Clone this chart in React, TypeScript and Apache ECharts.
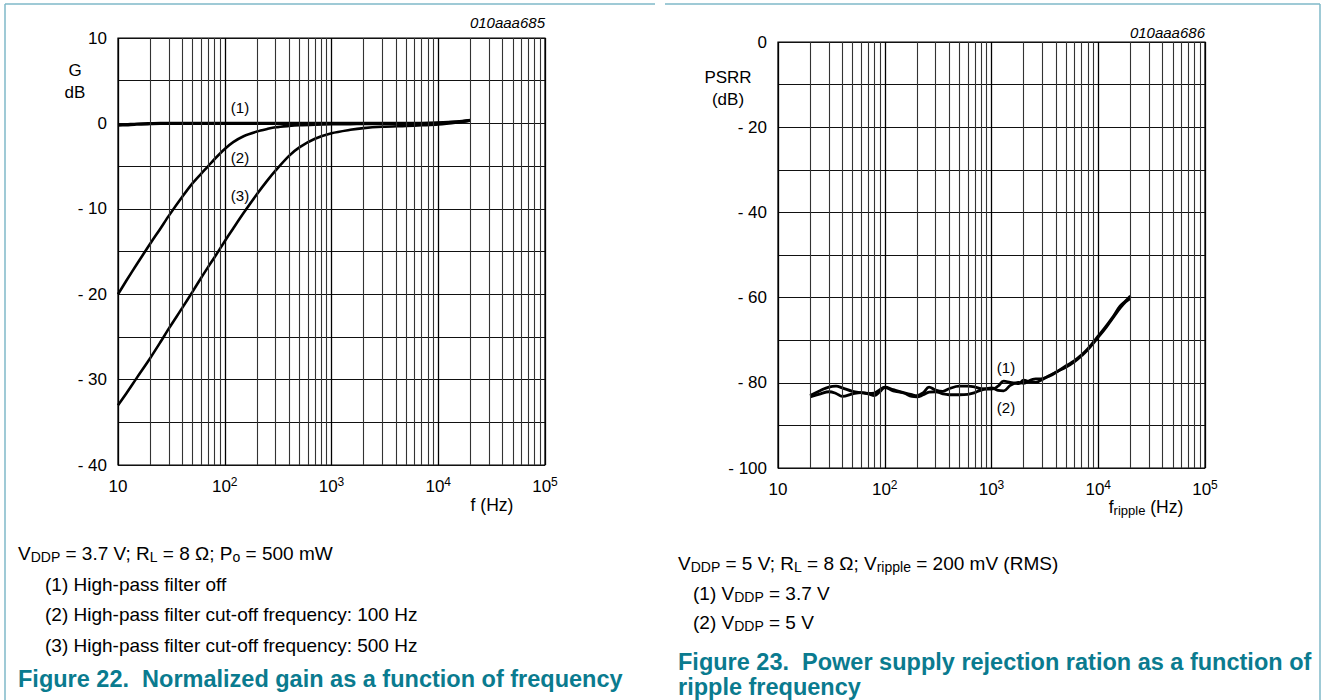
import React, { useEffect, useRef } from "react";
import * as echarts from "echarts";

// ---------- Figure 22: normalized gain ----------
const gainFreq = [10, 12, 15, 20, 25, 30, 40, 50, 60, 70, 80, 100, 120, 150, 200, 250, 300, 400, 500, 700, 1000, 1500, 2000, 3000, 5000, 7000, 10000, 15000, 20000];
const gainOff = [-0.2, -0.15, -0.08, -0.03, 0, 0, 0, 0, 0, 0, 0, 0, 0, 0, 0, 0, 0, 0, 0, 0, 0, 0, 0, 0, 0, 0, 0.05, 0.18, 0.35];
const gain100 = [-20, -18.4, -16.5, -14.1, -12.3, -10.8, -8.6, -7.0, -5.9, -5.0, -4.2, -3.0, -2.2, -1.5, -0.95, -0.65, -0.45, -0.3, -0.22, -0.15, -0.1, -0.08, -0.06, -0.05, -0.03, 0, 0.05, 0.18, 0.35];
const gain500 = [-33, -31.6, -29.8, -27.5, -25.6, -24.0, -21.6, -19.7, -18.1, -16.8, -15.7, -13.8, -12.3, -10.5, -8.3, -6.7, -5.5, -3.8, -2.8, -1.8, -1.15, -0.75, -0.55, -0.4, -0.3, -0.22, -0.12, 0.12, 0.35];

// ---------- Figure 23: PSRR ----------
const psrrFreq = [20, 25, 30, 35, 40, 50, 60, 70, 80, 90, 100, 120, 150, 180, 200, 230, 260, 300, 350, 400, 500, 600, 700, 800, 1000, 1150, 1300, 1500, 1800, 2000, 2300, 2600, 3000, 3500, 4000, 5000, 6000, 7000, 8000, 10000, 12000, 14000, 16000, 18000, 20000];
const psrr37 = [-83.0, -81.8, -81.0, -80.8, -81.2, -82.0, -82.3, -82.5, -82.4, -81.6, -81.0, -81.6, -82.3, -82.8, -83.0, -82.3, -81.0, -81.7, -82.0, -81.4, -80.8, -80.8, -81.0, -81.4, -81.5, -80.8, -79.6, -79.9, -80.2, -79.4, -79.8, -79.9, -79.2, -78.3, -77.5, -76.3, -75.0, -73.6, -72.2, -69.3, -66.8, -64.5, -62.5, -61.0, -60.2];
const psrr5 = [-83.3, -82.6, -82.1, -82.5, -83.2, -82.6, -82.3, -82.6, -83.0, -82.1, -81.1, -81.9, -82.4, -83.2, -83.3, -82.8, -82.2, -82.1, -82.6, -82.8, -82.8, -82.7, -82.3, -81.7, -81.2, -81.8, -81.9, -80.6, -79.9, -80.1, -79.4, -79.1, -79.0, -78.4, -77.6, -76.0, -74.8, -73.4, -72.0, -69.0, -66.5, -64.2, -62.0, -60.8, -59.6];

const decades = [10, 100, 1000, 10000];
const minorMultipliers = [2, 3, 4, 5, 6, 7, 8, 9];

const FONT = "'Liberation Sans', Arial, Helvetica, sans-serif";
const TEAL = "#0a7b8f";
const FRAME = "#7fb9c9";

function zip(xs: number[], ys: number[]) {
  return xs.map((x, i) => [x, ys[i]]);
}

function minorLines() {
  const out: any[] = [];
  decades.forEach((d) => minorMultipliers.forEach((m) => out.push({ xAxis: d * m })));
  return out;
}

function fmtY(v: number, step: number) {
  if (Math.round(v) % step !== 0) return "";
  if (v < 0) return "- " + -v;
  return String(v);
}

function fmtX(v: number) {
  const e = Math.round(Math.log10(v));
  if (e === 1) return "{b|10}";
  return "{b|10}{s|" + e + "}";
}

const xLabelRich = {
  b: { fontSize: 17, lineHeight: 20, fontFamily: FONT, color: "#000" },
  s: { fontSize: 12, lineHeight: 6, verticalAlign: "top", fontFamily: FONT, color: "#000" },
};

function txt(x: number, y: number, text: string, opts: any = {}) {
  return {
    type: "text",
    x,
    y,
    silent: true,
    style: {
      text,
      fontFamily: FONT,
      fontSize: opts.fontSize || 17,
      fontWeight: opts.fontWeight || "normal",
      fontStyle: opts.fontStyle || "normal",
      fill: opts.fill || "#000",
      align: opts.align || "left",
      verticalAlign: "middle",
      lineHeight: opts.lineHeight,
      backgroundColor: opts.bg,
      padding: opts.padding,
      rich: opts.rich,
    },
  };
}

const capRich = {
  t: { fontSize: 19, lineHeight: 22, fontFamily: FONT, color: "#000" },
  s: { fontSize: 14, lineHeight: 6, verticalAlign: "bottom", fontFamily: FONT, color: "#000" },
};

export default function App() {
  const ref = useRef<HTMLDivElement>(null);

  useEffect(() => {
    if (!ref.current) return;
    const chart = echarts.init(ref.current, undefined, { renderer: "svg" });

    const xAxisBase = (gridIndex: number) => ({
      type: "log",
      logBase: 10,
      gridIndex,
      min: 10,
      max: 100000,
      axisLine: { show: false },
      axisTick: { show: false },
      splitLine: { show: true, lineStyle: { color: "#000", width: 1.3 } },
      axisLabel: { formatter: fmtX, rich: xLabelRich, margin: 11, showMinLabel: true, showMaxLabel: true },
    });

    const yLabel = (step: number) => ({
      formatter: (v: number) => fmtY(v, step),
      fontSize: 17,
      fontFamily: FONT,
      color: "#000",
      margin: 11,
    });

    const option: any = {
      animation: false,
      backgroundColor: "#fff",
      grid: [
        { left: 118, top: 38, width: 427, height: 427, show: true, borderColor: "#000", borderWidth: 1.2, backgroundColor: "transparent" },
        { left: 778, top: 42, width: 427, height: 426, show: true, borderColor: "#000", borderWidth: 1.2, backgroundColor: "transparent" },
      ],
      xAxis: [xAxisBase(0), xAxisBase(1)],
      yAxis: [
        {
          type: "value",
          gridIndex: 0,
          min: -40,
          max: 10,
          interval: 5,
          axisLine: { show: false },
          axisTick: { show: false },
          splitLine: { show: true, lineStyle: { color: "#111", width: 1.1 } },
          axisLabel: yLabel(10),
        },
        {
          type: "value",
          gridIndex: 1,
          min: -100,
          max: 0,
          interval: 10,
          axisLine: { show: false },
          axisTick: { show: false },
          splitLine: { show: true, lineStyle: { color: "#111", width: 1.1 } },
          axisLabel: yLabel(20),
        },
      ],
      series: [
        {
          type: "line",
          xAxisIndex: 0,
          yAxisIndex: 0,
          data: [],
          z: 1,
          silent: true,
          markLine: {
            silent: true,
            symbol: ["none", "none"],
            label: { show: false },
            lineStyle: { color: "#333", width: 1.1, type: "solid" },
            data: minorLines(),
          },
        },
        {
          type: "line",
          xAxisIndex: 1,
          yAxisIndex: 1,
          data: [],
          z: 1,
          silent: true,
          markLine: {
            silent: true,
            symbol: ["none", "none"],
            label: { show: false },
            lineStyle: { color: "#333", width: 1.1, type: "solid" },
            data: minorLines(),
          },
        },
        {
          name: "(2)",
          type: "line",
          xAxisIndex: 0,
          yAxisIndex: 0,
          data: zip(gainFreq, gain100),
          smooth: 0.3,
          showSymbol: false,
          z: 3,
          lineStyle: { color: "#000", width: 2.6 },
        },
        {
          name: "(3)",
          type: "line",
          xAxisIndex: 0,
          yAxisIndex: 0,
          data: zip(gainFreq, gain500),
          smooth: 0.3,
          showSymbol: false,
          z: 3,
          lineStyle: { color: "#000", width: 2.6 },
        },
        {
          name: "(1)",
          type: "line",
          xAxisIndex: 0,
          yAxisIndex: 0,
          data: zip(gainFreq, gainOff),
          smooth: 0.3,
          showSymbol: false,
          z: 4,
          lineStyle: { color: "#000", width: 3.4 },
        },
        {
          name: "VDDP 3.7",
          type: "line",
          xAxisIndex: 1,
          yAxisIndex: 1,
          data: zip(psrrFreq, psrr37),
          smooth: 0.4,
          showSymbol: false,
          z: 3,
          lineStyle: { color: "#000", width: 2.8 },
        },
        {
          name: "VDDP 5",
          type: "line",
          xAxisIndex: 1,
          yAxisIndex: 1,
          data: zip(psrrFreq, psrr5),
          smooth: 0.4,
          showSymbol: false,
          z: 3,
          lineStyle: { color: "#000", width: 2.8 },
        },
      ],
      graphic: [
        // frames
        { type: "line", silent: true, shape: { x1: 5, y1: 4, x2: 655, y2: 4 }, style: { stroke: FRAME, lineWidth: 1.5 } },
        { type: "line", silent: true, shape: { x1: 665, y1: 4, x2: 1320, y2: 4 }, style: { stroke: FRAME, lineWidth: 1.5 } },
        { type: "line", silent: true, shape: { x1: 5, y1: 4, x2: 5, y2: 700 }, style: { stroke: FRAME, lineWidth: 1.5 } },
        { type: "line", silent: true, shape: { x1: 1320, y1: 4, x2: 1320, y2: 700 }, style: { stroke: FRAME, lineWidth: 1.5 } },
        // left chart texts
        txt(545, 22, "010aaa685", { align: "right", fontStyle: "italic", fontSize: 15 }),
        txt(75, 70, "G", { align: "center", fontSize: 17 }),
        txt(75, 92, "dB", { align: "center", fontSize: 17 }),
        txt(492, 505, "f (Hz)", { align: "center", fontSize: 17.5 }),
        txt(240, 107, "(1)", { align: "center", fontSize: 15 }),
        txt(240, 157, "(2)", { align: "center", fontSize: 15, bg: "#fff", padding: [1, 5] }),
        txt(240, 195, "(3)", { align: "center", fontSize: 15 }),
        // right chart texts
        txt(1205, 32, "010aaa686", { align: "right", fontStyle: "italic", fontSize: 15 }),
        txt(728, 77, "PSRR", { align: "center", fontSize: 17 }),
        txt(728, 99, "(dB)", { align: "center", fontSize: 17 }),
        txt(1146, 507, "{m|f}{u|ripple}{m| (Hz)}", {
          align: "center",
          rich: {
            m: { fontSize: 17.5, lineHeight: 20, fontFamily: FONT, color: "#000" },
            u: { fontSize: 13, lineHeight: 6, verticalAlign: "bottom", fontFamily: FONT, color: "#000" },
          },
        }),
        txt(1006, 367, "(1)", { align: "center", fontSize: 15 }),
        txt(1006, 407, "(2)", { align: "center", fontSize: 15 }),
        // left captions
        txt(18, 553, "{t|V}{s|DDP}{t| = 3.7 V; R}{s|L}{t| = 8 Ω; P}{s|o}{t| = 500 mW}", { rich: capRich }),
        txt(45, 584, "(1) High-pass filter off", { fontSize: 19 }),
        txt(45, 614, "(2) High-pass filter cut-off frequency: 100 Hz", { fontSize: 19 }),
        txt(45, 645, "(3) High-pass filter cut-off frequency: 500 Hz", { fontSize: 19 }),
        txt(18, 679, "Figure 22.  Normalized gain as a function of frequency", { fontSize: 23.5, lineHeight: 24, fontWeight: "bold", fill: TEAL }),
        // right captions
        txt(678, 563, "{t|V}{s|DDP}{t| = 5 V; R}{s|L}{t| = 8 Ω; V}{s|ripple}{t| = 200 mV (RMS)}", { rich: capRich }),
        txt(693, 593, "{t|(1) V}{s|DDP}{t| = 3.7 V}", { rich: capRich }),
        txt(693, 622, "{t|(2) V}{s|DDP}{t| = 5 V}", { rich: capRich }),
        txt(678, 662, "Figure 23.  Power supply rejection ration as a function of", { fontSize: 23.5, lineHeight: 24, fontWeight: "bold", fill: TEAL }),
        txt(678, 687, "ripple frequency", { fontSize: 23.5, lineHeight: 22, fontWeight: "bold", fill: TEAL }),
      ],
    };

    chart.setOption(option);
    return () => chart.dispose();
  }, []);

  return <div ref={ref} style={{ position: "absolute", left: 0, top: 0, width: 1326, height: 700 }} />;
}
